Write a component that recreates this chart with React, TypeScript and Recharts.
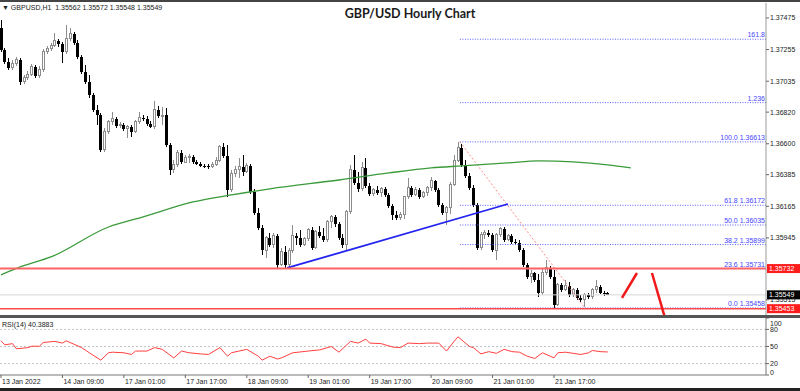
import React from 'react';
import { ComposedChart, Bar, Line, XAxis, YAxis, ReferenceLine } from 'recharts';

const FONT = '"Liberation Sans", Arial, sans-serif';

// ---------- price data (hourly candles, index 0 = 13 Jan 2022 ~17:00) ----------
const opens = [
  1.37406, 1.37252, 1.37169, 1.37127, 1.37155, 1.37183, 1.3703, 1.37058, 1.37085, 1.37134,
  1.37072, 1.37113, 1.37239, 1.37266, 1.3728, 1.37315, 1.37294, 1.37239, 1.37329, 1.37364,
  1.37301, 1.37204, 1.37099, 1.3703, 1.36939, 1.36835, 1.368, 1.36557, 1.36682, 1.36752,
  1.36773, 1.36724, 1.36731, 1.36703, 1.36717, 1.36682, 1.36752, 1.3678, 1.36773, 1.36738,
  1.36717, 1.36835, 1.36793, 1.368, 1.36592, 1.36418, 1.36453, 1.36536, 1.36473, 1.36501,
  1.36508, 1.36473, 1.3646, 1.36446, 1.36443, 1.36439, 1.36453, 1.36487, 1.36578, 1.36515,
  1.36279, 1.3639, 1.36418, 1.36439, 1.36404, 1.36446, 1.36265, 1.36119, 1.36014, 1.35861,
  1.35945, 1.35896, 1.35959, 1.35757, 1.35848, 1.35757, 1.35861, 1.35959, 1.35945, 1.35896,
  1.35938, 1.36001, 1.35875, 1.35987, 1.35959, 1.35931, 1.36056, 1.36091, 1.36042, 1.35945,
  1.35896, 1.36126, 1.36418, 1.36327, 1.36286, 1.36432, 1.36307, 1.36251, 1.36279, 1.36258,
  1.36286, 1.36244, 1.36167, 1.36105, 1.36084, 1.36105, 1.3623, 1.36293, 1.36244, 1.36279,
  1.3623, 1.36258, 1.36293, 1.36341, 1.36279, 1.36174, 1.36119, 1.36154, 1.3632, 1.36487,
  1.36571, 1.36453, 1.36376, 1.36293, 1.36174, 1.35875, 1.35966, 1.3598, 1.35966, 1.35861,
  1.35966, 1.36008, 1.35931, 1.35959, 1.35917, 1.3591, 1.35861, 1.35757, 1.35674, 1.35701,
  1.35653, 1.35562, 1.35708, 1.35736, 1.35674, 1.35479, 1.35618, 1.35583, 1.35611, 1.35549,
  1.35583, 1.35528, 1.35514, 1.35549, 1.35535, 1.35583, 1.35604, 1.35562, 1.35562,
];
const highs = [
  1.37461, 1.37266, 1.37197, 1.37183, 1.37204, 1.37197, 1.37079, 1.37106, 1.37155, 1.37148,
  1.37141, 1.37259, 1.3728, 1.37301, 1.37371, 1.37329, 1.37308, 1.37426, 1.37406, 1.37378,
  1.37322, 1.37218, 1.37148, 1.37079, 1.36953, 1.3687, 1.36814, 1.3671, 1.36766, 1.36821,
  1.36786, 1.36752, 1.36745, 1.36731, 1.36731, 1.36766, 1.36821, 1.368, 1.36793, 1.36759,
  1.36898, 1.36863, 1.36856, 1.36849, 1.36606, 1.36487, 1.36557, 1.36557, 1.36522, 1.36529,
  1.36522, 1.36487, 1.36473, 1.3646, 1.3646, 1.36473, 1.36508, 1.36592, 1.36606, 1.36592,
  1.36418, 1.36446, 1.36501, 1.36522, 1.36467, 1.3646, 1.36286, 1.36154, 1.36035, 1.35959,
  1.3598, 1.3598, 1.35973, 1.35875, 1.35889, 1.35875, 1.36035, 1.3598, 1.36001, 1.35952,
  1.36014, 1.36021, 1.36001, 1.36028, 1.36014, 1.3607, 1.36105, 1.36105, 1.36056, 1.35973,
  1.3614, 1.36453, 1.36522, 1.36404, 1.36473, 1.36501, 1.36327, 1.36293, 1.36307, 1.363,
  1.363, 1.36258, 1.36181, 1.36133, 1.36126, 1.36237, 1.36362, 1.36307, 1.363, 1.36293,
  1.36272, 1.36307, 1.36369, 1.36348, 1.36293, 1.36188, 1.36167, 1.36334, 1.36522, 1.36613,
  1.36599, 1.36487, 1.36397, 1.36313, 1.36188, 1.35987, 1.36001, 1.36001, 1.3598, 1.3598,
  1.36021, 1.36021, 1.35973, 1.35973, 1.35938, 1.35931, 1.35875, 1.35771, 1.35722, 1.35708,
  1.35695, 1.35736, 1.35792, 1.3575, 1.35722, 1.35632, 1.35632, 1.35653, 1.35639, 1.35597,
  1.35597, 1.35549, 1.35562, 1.35562, 1.35597, 1.35653, 1.35618, 1.35576, 1.35572,
];
const lows = [
  1.37239, 1.37155, 1.37113, 1.37113, 1.37141, 1.37009, 1.37016, 1.37044, 1.37072, 1.37058,
  1.37058, 1.37099, 1.37225, 1.37245, 1.37273, 1.37273, 1.37162, 1.37225, 1.37315, 1.37287,
  1.3719, 1.37085, 1.37016, 1.36919, 1.36821, 1.36731, 1.36543, 1.36543, 1.36668, 1.36731,
  1.3671, 1.3671, 1.36689, 1.3664, 1.36647, 1.36675, 1.36738, 1.36759, 1.36724, 1.3671,
  1.36703, 1.3678, 1.36731, 1.36578, 1.36383, 1.36397, 1.36439, 1.3646, 1.36467, 1.36467,
  1.3646, 1.36453, 1.36439, 1.36432, 1.36425, 1.36432, 1.36446, 1.36473, 1.36501, 1.3623,
  1.36265, 1.36369, 1.36362, 1.36376, 1.36397, 1.36251, 1.36105, 1.36001, 1.35827, 1.35806,
  1.35882, 1.35875, 1.35736, 1.3575, 1.35736, 1.35736, 1.35841, 1.35896, 1.35882, 1.35889,
  1.35924, 1.35861, 1.35868, 1.35945, 1.35917, 1.35917, 1.36014, 1.36021, 1.35931, 1.35875,
  1.35861, 1.36112, 1.36313, 1.36265, 1.36272, 1.36293, 1.36237, 1.36237, 1.36244, 1.3623,
  1.3623, 1.36154, 1.3607, 1.3607, 1.3607, 1.36077, 1.36216, 1.3623, 1.36237, 1.36216,
  1.36223, 1.36237, 1.36272, 1.36265, 1.3616, 1.36105, 1.36035, 1.36112, 1.36307, 1.36473,
  1.36439, 1.36362, 1.36279, 1.3616, 1.35861, 1.35861, 1.35938, 1.35952, 1.35848, 1.35792,
  1.35952, 1.35917, 1.35924, 1.35903, 1.35896, 1.35848, 1.35743, 1.3566, 1.35632, 1.35639,
  1.35535, 1.35549, 1.35688, 1.3566, 1.35458, 1.35472, 1.35569, 1.35576, 1.35535, 1.35535,
  1.35514, 1.355, 1.35465, 1.35521, 1.35521, 1.35562, 1.35555, 1.35542, 1.35548,
];
const closes = [
  1.37252, 1.37169, 1.37127, 1.37155, 1.37183, 1.3703, 1.37058, 1.37085, 1.37134, 1.37072,
  1.37113, 1.37239, 1.37266, 1.3728, 1.37315, 1.37294, 1.37239, 1.37329, 1.37364, 1.37301,
  1.37204, 1.37099, 1.3703, 1.36939, 1.36835, 1.368, 1.36557, 1.36682, 1.36752, 1.36773,
  1.36724, 1.36731, 1.36703, 1.36717, 1.36682, 1.36752, 1.3678, 1.36773, 1.36738, 1.36717,
  1.36835, 1.36793, 1.368, 1.36592, 1.36418, 1.36453, 1.36536, 1.36473, 1.36501, 1.36508,
  1.36473, 1.3646, 1.36446, 1.36443, 1.36439, 1.36453, 1.36487, 1.36578, 1.36515, 1.36279,
  1.3639, 1.36418, 1.36439, 1.36404, 1.36446, 1.36265, 1.36119, 1.36014, 1.35861, 1.35945,
  1.35896, 1.35959, 1.35757, 1.35848, 1.35757, 1.35861, 1.35959, 1.35945, 1.35896, 1.35938,
  1.36001, 1.35875, 1.35987, 1.35959, 1.35931, 1.36056, 1.36091, 1.36042, 1.35945, 1.35896,
  1.36126, 1.36418, 1.36327, 1.36286, 1.36432, 1.36307, 1.36251, 1.36279, 1.36258, 1.36286,
  1.36244, 1.36167, 1.36105, 1.36084, 1.36105, 1.3623, 1.36293, 1.36244, 1.36279, 1.3623,
  1.36258, 1.36293, 1.36341, 1.36279, 1.36174, 1.36119, 1.36154, 1.3632, 1.36487, 1.36571,
  1.36453, 1.36376, 1.36293, 1.36174, 1.35875, 1.35966, 1.3598, 1.35966, 1.35861, 1.35966,
  1.36008, 1.35931, 1.35959, 1.35917, 1.3591, 1.35861, 1.35757, 1.35674, 1.35701, 1.35653,
  1.35562, 1.35708, 1.35736, 1.35674, 1.35479, 1.35618, 1.35583, 1.35611, 1.35549, 1.35583,
  1.35528, 1.35514, 1.35549, 1.35535, 1.35583, 1.35604, 1.35562, 1.35561, 1.35549,
];

// 200 MA readings (bar index -> value)
const maIdx = [0, 5, 13, 28, 37, 50, 60, 70, 88, 101, 112, 120, 132, 140, 149, 158, 164];
const maVals = [1.35688, 1.35743, 1.35813, 1.36021, 1.36091, 1.36195, 1.36244, 1.36286, 1.36348,
  1.36397, 1.36432, 1.36446, 1.36467, 1.36481, 1.36474, 1.36453, 1.36432];

// RSI(14) readings
const rsiIdx = [0, 1, 3, 4, 7, 8, 10, 11, 14, 16, 17, 21, 23, 26, 28, 29, 32, 34, 35, 38, 40, 42, 45, 47, 49,
  52, 54, 57, 59, 60, 62, 64, 67, 68, 70, 72, 73, 76, 80, 83, 86, 88, 91, 93, 95, 96, 99, 102, 104, 106,
  109, 111, 114, 116, 118, 119, 122, 123, 125, 127, 129, 131, 133, 135, 137, 139, 141, 144, 145, 147,
  151, 153, 154, 156, 158];
const rsiVals = [60, 53, 55, 46, 48, 50.5, 50.5, 57, 59, 56, 60, 48, 39, 26, 39, 40, 39, 36, 42, 42, 48, 45, 30, 42, 39,
  37, 36, 48, 33, 39, 42, 45, 33, 26, 33, 28, 30, 39, 42, 44, 50, 40, 59, 56, 63, 56, 55, 49, 48, 56,
  55, 56, 56, 42, 59, 67, 50, 48, 37, 41, 38, 45, 41, 40, 33, 29, 39, 30, 39, 40,
  36, 39, 43, 41, 40.3883];

// axes
const timeTicks = [0, 16, 32, 48, 64, 80, 96, 112, 128, 144];
const timeLabels = ['13 Jan 2022', '14 Jan 09:00', '17 Jan 01:00', '17 Jan 17:00', '18 Jan 09:00',
  '19 Jan 01:00', '19 Jan 17:00', '20 Jan 09:00', '21 Jan 01:00', '21 Jan 17:00'];
const priceTicks = [1.37475, 1.37255, 1.37035, 1.3682, 1.366, 1.36385, 1.36165, 1.35945, 1.35515];
const rsiTicks = [0, 20, 50, 80, 100];
const rsiLevels = [80, 50, 20];

// drawn objects
const fibLevels = [1.37327, 1.36886, 1.36613, 1.36172, 1.36035, 1.35899, 1.35731, 1.35458];
const fibLabels = ['161.8', '1.236', '100.0 1.36613', '61.8 1.36172', '50.0 1.36035', '38.2 1.35899',
  '23.6 1.35731', '0.0 1.35458'];
const fibStart = 119.5;
const fibDiagonal = [{ x: 119.5, y: 1.36613 }, { x: 152, y: 1.35458 }];
const trendLine = [{ x: 74.5, y: 1.35736 }, { x: 132, y: 1.36181 }];
const arrowUp = [{ x: 161.7, y: 1.35528 }, { x: 165.6, y: 1.35701 }];
const arrowDown = [{ x: 169.5, y: 1.35701 }, { x: 172.9, y: 1.35389 }];
const resistance = 1.35732;
const support = 1.35453;
const bid = 1.35549;

const X_DOMAIN: [number, number] = [-0.26, 199.2];
const Y_DOMAIN: [number, number] = [1.35402, 1.37579];

const rows = Array.from({ length: 165 }, (_, i) => {
  const k = maIdx.indexOf(i);
  return {
    i,
    o: i < opens.length ? opens[i] : null,
    h: i < highs.length ? highs[i] : null,
    l: i < lows.length ? lows[i] : null,
    c: i < closes.length ? closes[i] : null,
    ma: k >= 0 ? maVals[k] : null,
  };
});
const rsiRows = rsiIdx.map((i, k) => ({ i, rsi: rsiVals[k] }));

const Candle = (props: any) => {
  const { x, y, width, height, payload } = props;
  if (!payload || payload.h == null) return null;
  const cx = Math.round(x + width / 2) + 0.5;
  const top = Math.min(y, y + height);
  const bot = Math.max(y, y + height);
  const rng = payload.h - payload.l;
  const py = (p: number) => (rng === 0 ? top : top + ((payload.h - p) / rng) * (bot - top));
  const yo = py(payload.o);
  const yc = py(payload.c);
  const up = payload.c >= payload.o;
  const bt = Math.min(yo, yc);
  const bb = Math.max(yo, yc);
  if (up) {
    return (
      <g shapeRendering="crispEdges">
        <line x1={cx} x2={cx} y1={top} y2={bot} stroke="#8c8c8c" strokeWidth={1} />
        <rect x={cx - 1} y={bt} width={2} height={Math.max(bb - bt, 1)} fill="#fff" stroke="#8c8c8c" strokeWidth={1} />
      </g>
    );
  }
  return (
    <g shapeRendering="crispEdges">
      <line x1={cx} x2={cx} y1={top} y2={bot} stroke="#000" strokeWidth={1} />
      <rect x={cx - 1.5} y={bt} width={3} height={Math.max(bb - bt, 1)} fill="#000" />
    </g>
  );
};

const PriceTick = (p: any) => (
  <text x={p.x + 1} y={p.y} dy={2.5} fontSize={7} fill="#222" fontFamily={FONT}>
    {Number(p.payload.value).toFixed(5)}
  </text>
);

const RsiTick = (p: any) => {
  const v = p.payload.value;
  const off = v === 100 ? 5 : v === 0 ? -3 : 0;
  return (
    <text x={p.x + 1} y={p.y + off} dy={2.5} fontSize={7} fill="#222" fontFamily={FONT}>
      {v}
    </text>
  );
};

const TimeTick = (p: any) => {
  const k = timeTicks.indexOf(p.payload.value);
  return (
    <text x={p.x + 1} y={p.y} dy={6} fontSize={7} fill="#222" fontFamily={FONT}>
      {k >= 0 ? timeLabels[k] : ''}
    </text>
  );
};

const tag = (text: string, bg: string) => (props: any) => {
  const vb = props.viewBox || {};
  const x = (vb.x || 0) + (vb.width || 0);
  const y = vb.y || 0;
  return (
    <g>
      <rect x={x + 1} y={y - 4.5} width={33} height={9} fill={bg} />
      <text x={x + 3} y={y + 2.5} fontSize={7} fill="#fff" fontFamily={FONT}>{text}</text>
    </g>
  );
};

const fibLabel = (text: string) => (props: any) => {
  const vb = props.viewBox || {};
  return (
    <text x={(vb.x || 0) + (vb.width || 0) - 1} y={(vb.y || 0) - 2} textAnchor="end" fontSize={7}
      fill="#4646ff" fontFamily={FONT}>{text}</text>
  );
};

export default function App() {
  return (
    <div style={{ position: 'absolute', left: 0, top: 0, width: 800, height: 391, background: '#fff', overflow: 'hidden' }}>
      <div style={{ position: 'absolute', left: 0, top: 0 }}>
        <ComposedChart width={800} height={318} data={rows} margin={{ top: 3, right: 0, bottom: 2, left: 0 }}>
          <XAxis dataKey="i" type="number" domain={X_DOMAIN} allowDataOverflow hide height={0} />
          <YAxis orientation="right" width={34} domain={Y_DOMAIN} allowDataOverflow ticks={priceTicks}
            interval={0} tickSize={3} tickMargin={0} tick={<PriceTick />} stroke="#999"
            tickLine={{ stroke: '#666' }} axisLine={{ stroke: '#999' }} />
          <ReferenceLine y={bid} stroke="#d6d6d6" strokeWidth={1} label={tag('1.35549', '#000')} />
          {fibLevels.map((lv, k) => (
            <ReferenceLine key={'f' + k} segment={[{ x: fibStart, y: lv }, { x: X_DOMAIN[1], y: lv }]}
              stroke="#5a5aff" strokeWidth={1} strokeDasharray="1 1.5" label={fibLabel(fibLabels[k])} />
          ))}
          <ReferenceLine segment={fibDiagonal} stroke="#ff8c8c" strokeWidth={1} strokeDasharray="2 2" />
          <Bar dataKey={(d: any) => (d.h != null ? [d.l, d.h] : null)} barSize={3} shape={<Candle />}
            isAnimationActive={false} />
          <Line dataKey="ma" type="monotone" stroke="#3b9b3b" strokeWidth={1.3} dot={false}
            connectNulls isAnimationActive={false} />
          <ReferenceLine segment={trendLine} stroke="#2323f0" strokeWidth={1.8} />
          <ReferenceLine y={resistance} stroke="#ff6464" strokeWidth={2} label={tag('1.35732', '#ff1c1c')} />
          <ReferenceLine y={support} stroke="#ff4a4a" strokeWidth={1.5} label={tag('1.35453', '#ff1c1c')} />
          <ReferenceLine segment={arrowUp} stroke="#f01818" strokeWidth={2.5} ifOverflow="visible" />
          <ReferenceLine segment={arrowDown} stroke="#f01818" strokeWidth={2.5} ifOverflow="visible" />
        </ComposedChart>
      </div>

      <div style={{ position: 'absolute', left: 0, top: 318 }}>
        <ComposedChart width={800} height={73} data={rsiRows} margin={{ top: 0, right: 0, bottom: 0, left: 0 }}>
          <XAxis dataKey="i" type="number" domain={X_DOMAIN} allowDataOverflow ticks={timeTicks} interval={0}
            height={16} tickSize={3} tickMargin={0} tick={<TimeTick />} tickLine={{ stroke: '#666' }}
            axisLine={{ stroke: '#777' }} />
          <YAxis orientation="right" width={34} domain={[0, 100]} allowDataOverflow ticks={rsiTicks} interval={0}
            tickSize={3} tickMargin={0} tick={<RsiTick />} tickLine={{ stroke: '#666' }} axisLine={{ stroke: '#777' }} />
          {rsiLevels.map((lv) => (
            <ReferenceLine key={lv} y={lv} stroke="#c4c4c4" strokeDasharray="2 2" />
          ))}
          <Line dataKey="rsi" type="linear" stroke="#ff4040" strokeWidth={1} dot={false} isAnimationActive={false} />
        </ComposedChart>
      </div>

      {/* frame pieces */}
      <div style={{ position: 'absolute', left: 0, top: 0, width: 800, height: 2, background: '#444' }} />
      <div style={{ position: 'absolute', left: 0, top: 315, width: 800, height: 3, background: '#555' }} />
      <div style={{ position: 'absolute', left: 0, top: 388, width: 800, height: 3, background: '#222' }} />

      {/* texts */}
      <div style={{ position: 'absolute', left: 2, top: 3, fontFamily: FONT, fontSize: 7, lineHeight: '10px', color: '#222', whiteSpace: 'nowrap' }}>
        ▼ GBPUSD,H1&nbsp; 1.35562 1.35572 1.35548 1.35549
      </div>
      <div style={{ position: 'absolute', left: 0, width: 820, top: 6, textAlign: 'center', fontFamily: 'Lato, "Liberation Sans", sans-serif', fontWeight: 700, fontSize: 12.5, lineHeight: '16px', color: '#1a1a1a' }}>
        GBP/USD Hourly Chart
      </div>
      <div style={{ position: 'absolute', left: 2, top: 320, fontFamily: FONT, fontSize: 7, lineHeight: '10px', color: '#222', whiteSpace: 'nowrap' }}>
        RSI(14) 40.3883
      </div>
    </div>
  );
}
